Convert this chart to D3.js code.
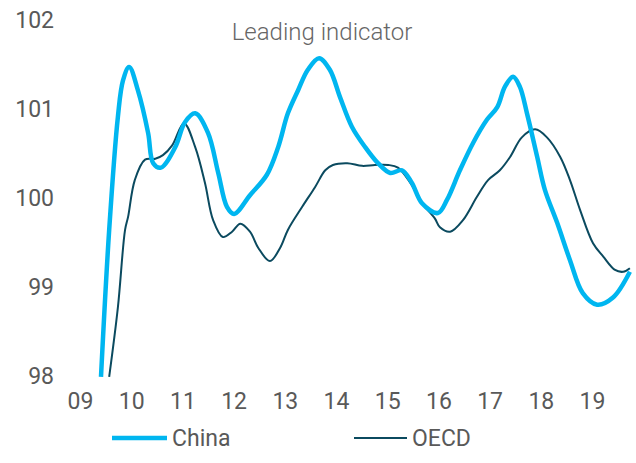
<!DOCTYPE html>
<html>
<head>
<meta charset="utf-8">
<script src="https://cdn.jsdelivr.net/npm/d3@7"></script>
<style>
  html, body { margin: 0; padding: 0; background: #fff; }
  svg { display: block; font-family: Roboto, "Open Sans", sans-serif; }
</style>
</head>
<body>
<svg id="chart" width="636" height="463"></svg>
<script>
// Leading indicator, China vs OECD (decimal years)
const chinaYears = [2009.41, 2009.57, 2009.74, 2009.84, 2009.96, 2010.13, 2010.33, 2010.43, 2010.58,
  2010.86, 2011.05, 2011.25, 2011.50, 2011.70, 2011.87, 2012.01, 2012.32, 2012.65, 2012.87,
  2013.06, 2013.26, 2013.45, 2013.67, 2013.88, 2014.08, 2014.31, 2014.57, 2014.82, 2015.06,
  2015.29, 2015.48, 2015.68, 2015.99, 2016.17, 2016.42, 2016.68, 2016.95, 2017.15, 2017.30,
  2017.46, 2017.59, 2017.73, 2017.93, 2018.08, 2018.32, 2018.57, 2018.82, 2019.10, 2019.41, 2019.74];
const chinaValues = [97.98, 99.63, 100.90, 101.31, 101.46, 101.20, 100.72, 100.38, 100.33,
  100.56, 100.84, 100.94, 100.72, 100.27, 99.89, 99.81, 100.02, 100.25, 100.56,
  100.94, 101.20, 101.43, 101.56, 101.43, 101.12, 100.79, 100.56, 100.38, 100.27,
  100.30, 100.16, 99.93, 99.82, 99.97, 100.30, 100.61, 100.87, 101.01, 101.24,
  101.35, 101.24, 100.94, 100.45, 100.08, 99.71, 99.29, 98.92, 98.79, 98.87, 99.16];

const oecdYears = [2009.57, 2009.74, 2009.88, 2009.94, 2010.07, 2010.27, 2010.47, 2010.62, 2010.80,
  2011.03, 2011.25, 2011.44, 2011.60, 2011.79, 2011.97, 2012.13, 2012.32, 2012.48, 2012.71,
  2012.91, 2013.06, 2013.34, 2013.59, 2013.79, 2013.94, 2014.22, 2014.51, 2014.76, 2015.02,
  2015.21, 2015.45, 2015.68, 2015.93, 2016.03, 2016.23, 2016.48, 2016.75, 2016.97, 2017.20,
  2017.40, 2017.63, 2017.89, 2018.12, 2018.38, 2018.57, 2018.77, 2019.02, 2019.22, 2019.45,
  2019.61, 2019.74];
const oecdValues = [97.98, 98.76, 99.63, 99.78, 100.19, 100.42, 100.43, 100.47, 100.58,
  100.83, 100.56, 100.16, 99.74, 99.55, 99.61, 99.70, 99.61, 99.43, 99.28,
  99.43, 99.63, 99.89, 100.11, 100.30, 100.36, 100.38, 100.35, 100.36, 100.36,
  100.33, 100.16, 99.93, 99.76, 99.66, 99.61, 99.74, 100.00, 100.19, 100.30,
  100.45, 100.67, 100.76, 100.67, 100.45, 100.19, 99.85, 99.48, 99.33, 99.18,
  99.16, 99.20];

const yearTicks = [2009, 2010, 2011, 2012, 2013, 2014, 2015, 2016, 2017, 2018, 2019];
const yearLabels = ["09", "10", "11", "12", "13", "14", "15", "16", "17", "18", "19"];
const valueTicks = [98, 99, 100, 101, 102];
const seriesNames = ["China", "OECD"];
const seriesColors = ["#00b6f0", "#0b4a5f"];

const svg = d3.select("#chart");
const x = d3.scaleLinear().domain([2009, 2019]).range([80, 592]);
const y = d3.scaleLinear().domain([98, 102]).range([375, 19]);
const textColor = "#595959";

// clip the series at the bottom of the value range
svg.append("defs").append("clipPath").attr("id", "plotClip")
  .append("rect").attr("x", 0).attr("y", 0).attr("width", 636).attr("height", y(98) + 2);

// value axis labels
const yAxis = d3.axisLeft(y).tickValues(valueTicks).tickSize(0).tickPadding(0).tickFormat(d3.format("d"));
const gy = svg.append("g").attr("transform", "translate(54,0)").call(yAxis);
gy.select(".domain").remove();
gy.selectAll("text").attr("fill", textColor).style("font-size", "23px")
  .style("font-family", "Roboto, sans-serif").attr("dy", "0.36em");

// year axis labels
const xAxis = d3.axisBottom(x).tickValues(yearTicks).tickSize(0).tickPadding(0)
  .tickFormat((d, i) => yearLabels[i]);
const gx = svg.append("g").attr("transform", "translate(0,393)").call(xAxis);
gx.select(".domain").remove();
gx.selectAll("text").attr("fill", textColor).style("font-size", "23px")
  .style("font-family", "Roboto, sans-serif").attr("dy", "0.71em");

// title
svg.append("text").attr("x", 322).attr("y", 40).attr("text-anchor", "middle")
  .attr("fill", "#666").style("font-size", "24px").style("font-weight", 300)
  .text("Leading indicator");

const line = d3.line().x(d => x(d[0])).y(d => y(d[1])).curve(d3.curveCatmullRom.alpha(0.5));
const plot = svg.append("g").attr("clip-path", "url(#plotClip)");

plot.append("path")
  .datum(oecdYears.map((t, i) => [t, oecdValues[i]]))
  .attr("fill", "none").attr("stroke", seriesColors[1]).attr("stroke-width", 2)
  .attr("stroke-linejoin", "round").attr("d", line);

plot.append("path")
  .datum(chinaYears.map((t, i) => [t, chinaValues[i]]))
  .attr("fill", "none").attr("stroke", seriesColors[0]).attr("stroke-width", 4.5)
  .attr("stroke-linejoin", "round").attr("d", line);

// legend
const legend = [
  { x0: 112, x1: 167, tx: 172, w: 4.5 },
  { x0: 354, x1: 407, tx: 412, w: 2 }
];
legend.forEach((l, i) => {
  svg.append("line").attr("x1", l.x0).attr("x2", l.x1).attr("y1", 438).attr("y2", 438)
    .attr("stroke", seriesColors[i]).attr("stroke-width", l.w);
  svg.append("text").attr("x", l.tx).attr("y", 446).attr("fill", textColor)
    .style("font-size", "23px").text(seriesNames[i]);
});
</script>
</body>
</html>
